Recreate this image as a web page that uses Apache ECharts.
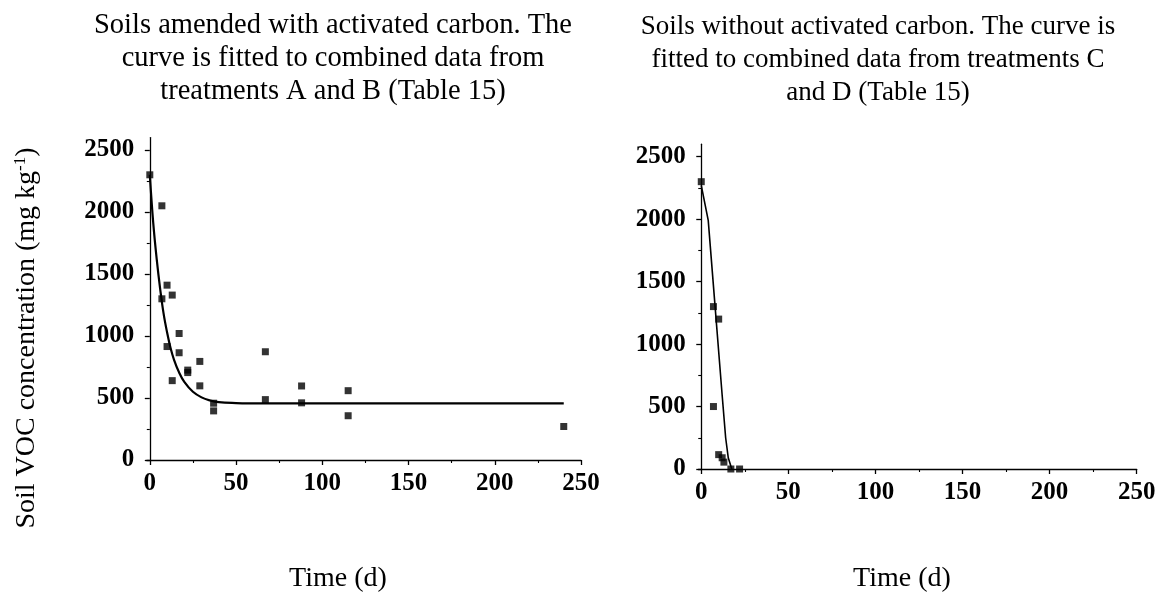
<!DOCTYPE html>
<html><head><meta charset="utf-8">
<script src="https://cdn.jsdelivr.net/npm/echarts@6/dist/echarts.min.js"></script>
<style>html,body{margin:0;padding:0;background:#fff}#c{width:1163px;height:594px}</style>
</head><body><div id="c"></div>
<script>
// ---- data ----
// Left panel: soils amended with activated carbon (treatments A and B)
const leftTime = [0, 7, 7, 10, 13, 10, 13, 17, 17, 22, 22, 29, 29, 37, 37, 67, 67, 88, 88, 115, 115, 240];
const leftConc = [2300, 2050, 1300, 1410, 1330, 915, 640, 1020, 865, 725, 705, 795, 598, 458, 396, 873, 487, 597, 461, 559, 357, 270];
// fitted curve
const leftFitTime = [0, 2, 4, 6, 8, 10, 12, 14, 17, 20, 25, 30, 35, 40, 50, 60, 80, 120, 160, 200, 240];
const leftFitConc = [2300, 1910, 1620, 1380, 1180, 1030, 905, 810, 705, 630, 550, 505, 480, 466, 459, 457, 456, 456, 456, 456, 456];
// Right panel: soils without activated carbon (treatments C and D)
const rightTime = [0, 7, 10, 7, 10, 12, 13, 17, 22];
const rightConc = [2300, 1300, 1200, 500, 115, 90, 55, 0, 0];
const rightFitTime = [0, 4, 8, 12, 14, 15.5, 17.5];
const rightFitConc = [2270, 1990, 1290, 590, 250, 90, 0];
// tick values
const xMajor = [0, 50, 100, 150, 200, 250];
const xMinor = [25, 75, 125, 175, 225];
const yMajor = [0, 500, 1000, 1500, 2000, 2500];
const yMinor = [250, 750, 1250, 1750, 2250];
// text
const leftTitle = ['Soils amended with activated carbon. The', 'curve is fitted to combined data from', 'treatments A and B (Table 15)'];
const rightTitle = ['Soils without activated carbon. The curve is', 'fitted to combined data from treatments C', 'and D (Table 15)'];
const xName = 'Time (d)';

const FONT = "'Liberation Serif','Times New Roman',serif";
const BLACK = '#000';
const zip = (a, b) => a.map((v, i) => [v, b[i]]);
const plain = v => String(v);

function xAxes(grid, min) {
  return [
    { gridIndex: grid, type: 'value', position: 'bottom', min: min, max: 250,
      axisLine: { show: true, lineStyle: { color: BLACK, width: 1.3 } },
      axisTick: { show: true, customValues: xMajor, length: 5, lineStyle: { color: BLACK, width: 1.3 } },
      axisLabel: { show: true, customValues: xMajor, formatter: plain, color: BLACK, fontFamily: FONT, fontWeight: 'bold', fontSize: 25, margin: 11 },
      splitLine: { show: false } },
    { gridIndex: grid, type: 'value', position: 'bottom', min: min, max: 250,
      axisLine: { show: false },
      axisTick: { show: true, customValues: xMinor, length: 3, lineStyle: { color: BLACK, width: 1.1 } },
      axisLabel: { show: false }, splitLine: { show: false } }
  ];
}
function yAxes(grid) {
  return [
    { gridIndex: grid, type: 'value', position: 'left', min: 0, max: 2600,
      axisLine: { show: true, lineStyle: { color: BLACK, width: 1.3 } },
      axisTick: { show: true, customValues: yMajor, length: 5, lineStyle: { color: BLACK, width: 1.3 } },
      axisLabel: { show: true, customValues: yMajor, formatter: plain, color: BLACK, fontFamily: FONT, fontWeight: 'bold', fontSize: 25, margin: 12.5 },
      splitLine: { show: false } },
    { gridIndex: grid, type: 'value', position: 'left', min: 0, max: 2600,
      axisLine: { show: false },
      axisTick: { show: true, customValues: yMinor, length: 3, lineStyle: { color: BLACK, width: 1.1 } },
      axisLabel: { show: false }, splitLine: { show: false } }
  ];
}

function titleLines(lines, cx, ys, size) {
  return lines.map((t, i) => ({
    type: 'text', x: cx, y: ys[i],
    style: { text: t, fill: BLACK, font: size + 'px ' + FONT, textAlign: 'center', textVerticalAlign: 'middle' }
  }));
}

const chart = echarts.init(document.getElementById('c'), null, { renderer: 'canvas' });
chart.setOption({
  backgroundColor: '#fff',
  animation: false,
  grid: [
    { left: 146.7, top: 137.6, width: 434.3, height: 322.4 },
    { left: 698.3, top: 144.2, width: 438.4, height: 324.8 }
  ],
  xAxis: [...xAxes(0, -1.8), ...xAxes(1, -1.7)],
  yAxis: [...yAxes(0), ...yAxes(1)],
  series: [
    { type: 'line', xAxisIndex: 0, yAxisIndex: 0, data: zip(leftFitTime, leftFitConc), smooth: 0.4,
      showSymbol: false, lineStyle: { color: BLACK, width: 2.2 }, z: 2 },
    { type: 'scatter', xAxisIndex: 0, yAxisIndex: 0, data: zip(leftTime, leftConc), symbol: 'rect', symbolSize: 7,
      itemStyle: { color: BLACK }, clip: false, z: 3 },
    { type: 'line', xAxisIndex: 2, yAxisIndex: 2, data: zip(rightFitTime, rightFitConc), smooth: false,
      showSymbol: false, lineStyle: { color: BLACK, width: 1.6 }, z: 2 },
    { type: 'scatter', xAxisIndex: 2, yAxisIndex: 2, data: zip(rightTime, rightConc), symbol: 'rect', symbolSize: 7,
      itemStyle: { color: BLACK }, clip: false, z: 3 }
  ],
  graphic: [
    ...titleLines(leftTitle, 333, [26, 59, 92], 28.5),
    ...titleLines(rightTitle, 878, [27, 60, 93], 27),
    { type: 'text', x: 338, y: 579, style: { text: xName, fill: BLACK, font: '28px ' + FONT, textAlign: 'center', textVerticalAlign: 'middle' } },
    { type: 'text', x: 902, y: 579, style: { text: xName, fill: BLACK, font: '28px ' + FONT, textAlign: 'center', textVerticalAlign: 'middle' } },
    { type: 'text', x: 27, y: 338, rotation: Math.PI / 2,
      style: {
        text: '{a|Soil VOC concentration (mg kg}{s|-1}{a|)}',
        textAlign: 'center', textVerticalAlign: 'middle', fill: BLACK,
        rich: {
          a: { fontFamily: FONT, fontSize: 28, color: BLACK, lineHeight: 30 },
          s: { fontFamily: FONT, fontSize: 17, color: BLACK, verticalAlign: 'top', lineHeight: 17 }
        }
      } }
  ]
});
</script></body></html>
